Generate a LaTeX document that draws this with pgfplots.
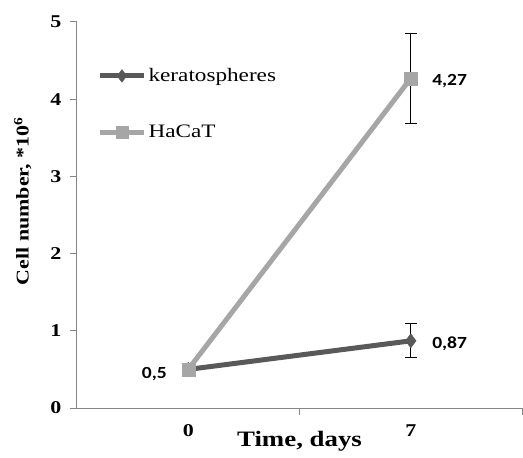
\documentclass[border=0pt]{standalone}
\usepackage{fontspec}
\setmainfont[FakeStretch=1.22]{Liberation Serif}
\newfontfamily\calib[FakeStretch=1.15]{Carlito}
\usepackage{pgfplots}
\pgfplotsset{compat=1.18}
\definecolor{kdark}{HTML}{595959}
\definecolor{hlight}{HTML}{A6A6A6}
\definecolor{axgray}{HTML}{868686}
\begin{document}
\begin{tikzpicture}
\begin{axis}[
  scale only axis,
  width=445pt, height=386pt,
  xmin=0.5, xmax=2.5, ymin=0, ymax=5,
  axis x line*=bottom, axis y line*=left,
  axis line style={axgray, line width=1pt, -},
  xtick={1,2}, xticklabels={0,7},
  minor xtick={1.5,2.5},
  ytick={0,1,2,3,4,5},
  tick align=outside,
  major tick length=7pt, minor tick length=7pt,
  x tick style={draw=none},
  minor x tick style={axgray, line width=1pt, draw=axgray},
  y tick style={axgray, line width=1pt},
  /pgf/number format/assume math mode=true,
  tick label style={font=\fontsize{18}{20}\selectfont\bfseries},
  yticklabel style={xshift=-5pt},
  xticklabel style={yshift=-6pt},
  xlabel={Time, days},
  xlabel style={font=\fontsize{22}{24}\selectfont\bfseries, at={(axis description cs:0.5,0)}, anchor=north, yshift=-20pt},
  ylabel={Cell number, *10\textsuperscript{6}},
  ylabel style={font=\fontsize{18}{20}\selectfont\bfseries, at={(axis description cs:0,0.536)}, anchor=south, yshift=42pt},
  legend style={at={(0.045,0.885)}, anchor=north west, draw=none, fill=none,
    font=\fontsize{19}{21}\selectfont, row sep=38pt, inner sep=0pt},
  legend cell align=left,
  legend image code/.code={
    \draw[mark repeat=2, mark phase=2, #1, /tikz/every mark/.append style={scale=0.9}] plot coordinates {(0cm,0cm) (0.78cm,0cm) (1.56cm,0cm)};
  },
  clip=false,
]
\addplot[kdark, line width=5pt, mark=diamond*, mark size=7pt, mark options={solid, fill=kdark, line width=0.5pt},
  error bars/.cd, y dir=both, y explicit,
  error bar style={black, line width=1pt},
  error mark options={rotate=90, black, mark size=6pt, line width=1pt}]
  coordinates {(1,0.5) +- (0,0) (2,0.87) +- (0,0.22)};
\addlegendentry{keratospheres}
\addplot[hlight, line width=5pt, mark=square*, mark size=6.5pt, mark options={solid, fill=hlight, line width=0.5pt},
  error bars/.cd, y dir=both, y explicit,
  error bar style={black, line width=1pt},
  error mark options={rotate=90, black, mark size=6pt, line width=1pt}]
  coordinates {(1,0.5) +- (0,0) (2,4.27) +- (0,0.58)};
\addlegendentry{HaCaT}
\addplot[draw=none, forget plot, nodes near coords, point meta=explicit symbolic,
  nodes near coords style={anchor=west, xshift=18pt, yshift=-3pt, font=\calib\fontsize{17}{19}\selectfont\bfseries, text=black}]
  coordinates {(2,4.27) [4,27] (2,0.87) [0,87]};
\addplot[draw=none, forget plot, nodes near coords, point meta=explicit symbolic,
  nodes near coords style={anchor=east, xshift=-18pt, yshift=-5pt, font=\calib\fontsize{17}{19}\selectfont\bfseries, text=black}]
  coordinates {(1,0.5) [0,5]};
\end{axis}
\pgfresetboundingbox
\path[use as bounding box] ([shift={(-77pt,-49pt)}]current axis.south west) rectangle ([shift={(1pt,22pt)}]current axis.north east);
\end{tikzpicture}
\end{document}
